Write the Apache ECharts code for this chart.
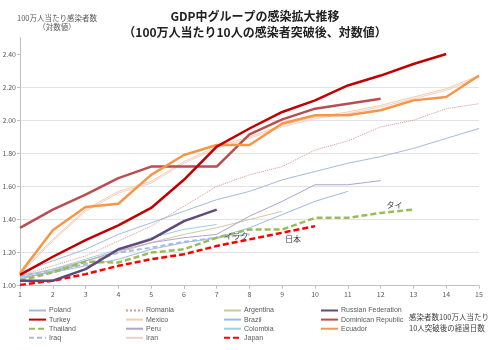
<!DOCTYPE html>
<html>
<head>
<meta charset="utf-8">
<script src="https://cdn.jsdelivr.net/npm/echarts@6/dist/echarts.min.js"></script>
<style>
  html, body { margin: 0; padding: 0; background: #fff; }
  #main { width: 500px; height: 350px; }
</style>
</head>
<body>
<div id="main"></div>
<script>
// 経過日数 (x) と y 軸の目盛
var days = [1, 2, 3, 4, 5, 6, 7, 8, 9, 10, 11, 12, 13, 14, 15];
var yTicks = [1.0, 1.2, 1.4, 1.6, 1.8, 2.0, 2.2, 2.4];

// 各国の値 (index 0 = 1日目)
var poland    = [1.08, 1.15, 1.22, 1.31, 1.38, 1.45, 1.52, 1.57, 1.64, 1.69, 1.74, 1.78, 1.83, 1.89, 1.95];
var romania   = [1.06, 1.12, 1.18, 1.27, 1.36, 1.48, 1.60, 1.67, 1.72, 1.82, 1.875, 1.96, 2.00, 2.07, 2.10];
var argentina = [1.06, 1.10, 1.15, 1.20, 1.26, 1.31, 1.35, 1.40, 1.45];
var russia    = [1.03, 1.03, 1.10, 1.22, 1.28, 1.39, 1.46];
var turkey    = [1.065, 1.175, 1.275, 1.365, 1.47, 1.64, 1.84, 1.95, 2.05, 2.12, 2.21, 2.27, 2.34, 2.40];
var mexico    = [1.08, 1.28, 1.46, 1.57, 1.63, 1.75, 1.84, 1.90, 1.97, 2.02, 2.05, 2.09, 2.14, 2.19, 2.27];
var brazil    = [1.05, 1.08, 1.12, 1.16, 1.22, 1.26, 1.29, 1.35, 1.43, 1.51, 1.57];
var dominican = [1.35, 1.46, 1.55, 1.65, 1.72, 1.72, 1.72, 1.915, 2.005, 2.07, 2.10, 2.13];
var thailand  = [1.03, 1.08, 1.145, 1.14, 1.20, 1.22, 1.29, 1.34, 1.34, 1.41, 1.41, 1.44, 1.46];
var peru      = [1.04, 1.09, 1.15, 1.21, 1.26, 1.29, 1.31, 1.42, 1.51, 1.61, 1.61, 1.635];
var colombia  = [1.05, 1.10, 1.16, 1.22, 1.29, 1.34, 1.37];
var ecuador   = [1.075, 1.335, 1.475, 1.495, 1.67, 1.79, 1.85, 1.85, 1.98, 2.03, 2.03, 2.06, 2.12, 2.14, 2.27];
var iraq      = [1.06, 1.09, 1.13, 1.20, 1.23, 1.265, 1.29, 1.31];
var iran      = [1.07, 1.27, 1.45, 1.56, 1.62, 1.74, 1.83, 1.89, 1.96, 2.01, 2.04, 2.08, 2.13, 2.18, 2.26];
var japan     = [1.005, 1.03, 1.07, 1.12, 1.16, 1.19, 1.24, 1.28, 1.32, 1.36];

function pts(arr) {
  return arr.map(function (v, i) { return [days[i], v]; });
}

function line(name, arr, color, width, type, z) {
  return {
    name: name, type: 'line', data: pts(arr), symbol: 'none', z: z || 2,
    lineStyle: { color: color, width: width, type: type || 'solid' },
    itemStyle: { color: color },
    emphasis: { disabled: true }
  };
}

// 線末尾の国名ラベル (markPoint、記号なし)
function endLabel(s, text, offset) {
  var last = s.data[s.data.length - 1];
  s.markPoint = {
    symbol: 'circle', symbolSize: 0, silent: true, animation: false,
    label: { show: true, position: 'inside', formatter: text, offset: offset,
      fontSize: 8, color: '#404040', fontFamily: 'Noto Sans CJK JP' },
    data: [{ coord: last }]
  };
  return s;
}

var series = [
  line('Poland', poland, '#A3BCDA', 1),
  line('Romania', romania, '#D99694', 1, 'dotted'),
  line('Argentina', argentina, '#CFC7A6', 1),
  line('Mexico', mexico, '#F9CBA5', 1),
  line('Iran', iran, '#EFCFCE', 1),
  line('Brazil', brazil, '#99BBE3', 1),
  line('Peru', peru, '#AFA3CC', 1),
  line('Colombia', colombia, '#9DD1DF', 1),
  endLabel(line('Iraq', iraq, '#A6BDDD', 2, [5, 3], 3), 'イラク', [-13, 2]),
  endLabel(line('Thailand', thailand, '#9BBB59', 2.5, [6, 3], 3), 'タイ', [-19, -5]),
  endLabel(line('Japan', japan, '#FF0000', 2.5, [6, 3], 4), '日本', [-22, 13]),
  line('Russian Federation', russia, '#604A7B', 2.5, null, 4),
  line('Dominican Republic', dominican, '#B84E50', 2.5, null, 4),
  line('Ecuador', ecuador, '#F79646', 2.5, null, 4),
  line('Turkey', turkey, '#C00000', 2.5, null, 5)
];

var legendCols = [
  ['Poland', 'Turkey', 'Thailand', 'Iraq'],
  ['Romania', 'Mexico', 'Peru', 'Iran'],
  ['Argentina', 'Brazil', 'Colombia', 'Japan'],
  ['Russian Federation', 'Dominican Republic', 'Ecuador']
];
var legendX = [28, 125, 223, 320];

var chart = echarts.init(document.getElementById('main'));
chart.setOption({
  animation: false,
  backgroundColor: '#fff',
  textStyle: { fontFamily: 'Noto Sans CJK JP' },
  title: [
    {
      text: 'GDP中グループの感染拡大推移\n（100万人当たり10人の感染者突破後、対数値）',
      left: 250, top: 3, textAlign: 'center',
      textStyle: { fontSize: 12, fontWeight: 'bold', color: '#222', lineHeight: 16.5 }
    },
    {
      text: '100万人当たり感染者数\n（対数値）',
      left: 52, top: 8, textAlign: 'center',
      textStyle: { fontSize: 7.5, fontWeight: 'normal', color: '#595959', lineHeight: 9.5 }
    },
    {
      text: '感染者数100万人当たり\n10人突破後の経過日数',
      left: 404, top: 307,
      textStyle: { fontSize: 7.5, fontWeight: 'normal', color: '#404040', lineHeight: 11 }
    }
  ],
  legend: legendCols.map(function (col, i) {
    return {
      data: col, orient: 'vertical', left: legendX[i], top: 307,
      itemWidth: 17, itemHeight: 8, itemGap: 2.1, padding: 0,
      selectedMode: false,
      itemStyle: { opacity: 0 },
      textStyle: { fontSize: 7, color: '#595959', padding: [0, 0, 0, -2],
        fontFamily: 'Liberation Sans Narrow, Liberation Sans, sans-serif' }
    };
  }),
  grid: { left: 20, right: 21, top: 37.5, bottom: 64.3, outerBoundsMode: 'none' },
  xAxis: {
    type: 'value', min: 1, max: 15, interval: 1,
    axisLine: { lineStyle: { color: '#BFBFBF' } },
    axisTick: { show: true, length: 3, lineStyle: { color: '#BFBFBF' } },
    axisLabel: { fontSize: 7, color: '#595959', margin: 5 },
    splitLine: { show: false }
  },
  yAxis: {
    type: 'value', min: 1.0, max: 2.5, interval: 0.2,
    axisLine: { show: true, lineStyle: { color: '#BFBFBF' } },
    axisTick: { show: true, length: 3, lineStyle: { color: '#BFBFBF' }, customValues: yTicks },
    axisLabel: {
      fontSize: 7, color: '#595959', margin: 4, customValues: yTicks,
      formatter: function (v) { return v > 2.45 ? '' : v.toFixed(2); }
    },
    splitLine: {
      show: true,
      lineStyle: { color: ['#E3E3E3', '#E3E3E3', '#E3E3E3', '#E3E3E3', '#E3E3E3', '#E3E3E3', '#E3E3E3', 'rgba(0,0,0,0)'] }
    }
  },
  series: series
});
</script>
</body>
</html>
